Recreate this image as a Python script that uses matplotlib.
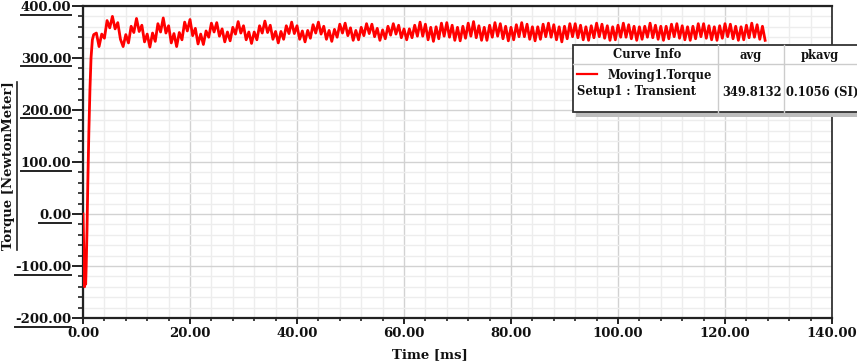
import numpy as np
import matplotlib
matplotlib.use("Agg")
import matplotlib.pyplot as plt
from matplotlib.ticker import MultipleLocator, FormatStrFormatter
from matplotlib.lines import Line2D
from matplotlib.patches import Rectangle

plt.rcParams["axes.unicode_minus"] = False

# ---------------- data ----------------
startup_time = [0.0, 0.15, 0.3, 0.4, 0.5, 0.6, 0.75, 0.9, 1.1, 1.3, 1.5, 1.75, 2.0]
startup_torque = [0, -70, -140, -110, -135, -100, -30, 60, 160, 240, 300, 335, 345]

steady_time_start, steady_time_step, steady_time_end = 2.5, 0.5, 127.5
steady_torque = [
    348, 322, 346, 338, 372, 358, 380, 356, 368, 336,
    322, 345, 329, 361, 349, 376, 351, 363, 331, 346,
    321, 348, 332, 366, 350, 377, 348, 362, 329, 347,
    322, 349, 335, 369, 352, 374, 343, 357, 327, 346,
    326, 352, 340, 367, 350, 368, 342, 356, 331, 350,
    333, 359, 346, 370, 348, 362, 335, 350, 328, 350,
    335, 362, 348, 371, 349, 363, 336, 351, 329, 351,
    336, 362, 347, 369, 347, 362, 336, 352, 331, 353,
    338, 364, 348, 369, 346, 361, 336, 353, 332, 355,
    340, 365, 348, 367, 343, 358, 334, 353, 335, 359,
    343, 366, 347, 365, 341, 357, 334, 354, 337, 361,
    344, 366, 346, 363, 339, 356, 335, 356, 339, 363,
    342, 369, 342, 365, 335, 359, 332, 360, 337, 367,
    342, 368, 340, 363, 334, 359, 333, 361, 338, 367,
    342, 370, 339, 362, 334, 359, 334, 363, 340, 368,
    342, 366, 337, 361, 333, 359, 335, 364, 341, 368,
    341, 365, 336, 360, 333, 360, 336, 365, 341, 367,
    340, 364, 335, 360, 331, 361, 337, 366, 341, 366,
    339, 363, 335, 360, 334, 362, 339, 367, 341, 365,
    338, 362, 334, 360, 335, 363, 340, 367, 340, 364,
    337, 361, 334, 360, 336, 361, 340, 367, 339, 363,
    336, 361, 334, 361, 337, 365, 341, 366, 338, 362,
    335, 360, 334, 361, 337, 366, 341, 366, 338, 362,
    335, 360, 334, 362, 338, 366, 341, 365, 337, 361,
    334, 360, 335, 363, 339, 367, 340, 364, 336, 361,
    334,
]

legend_headers = ["Curve Info", "avg", "pkavg"]
legend_curve = "Moving1.Torque"
legend_setup = "Setup1 : Transient"
legend_avg = "349.8132"
legend_pkavg = "0.1056 (SI)"

x_label = "Time [ms]"
y_label = "Torque [NewtonMeter]"

# ---------------- figure ----------------
W, H = 857, 364
fig = plt.figure(figsize=(W / 100, H / 100), dpi=100)
ax = fig.add_axes([83 / W, 1 - 318 / H, (832 - 83) / W, (318 - 6) / H])

steady_time = np.arange(steady_time_start, steady_time_end + 1e-9, steady_time_step)
t = np.concatenate([startup_time, steady_time[:len(steady_torque)]])
y = np.concatenate([startup_torque, steady_torque])

ax.plot(t, y, color="#ff0000", lw=2.0, zorder=3)

ax.set_xlim(0, 140)
ax.set_ylim(-200, 400)
ax.xaxis.set_major_locator(MultipleLocator(20))
ax.xaxis.set_minor_locator(MultipleLocator(4))
ax.yaxis.set_major_locator(MultipleLocator(100))
ax.yaxis.set_minor_locator(MultipleLocator(20))
ax.xaxis.set_major_formatter(FormatStrFormatter("%.2f"))
ax.yaxis.set_major_formatter(FormatStrFormatter("%.2f"))

ax.set_axisbelow(True)
ax.grid(which="major", color="#d2d2d2", lw=1.0)
ax.grid(which="minor", color="#ededed", lw=1.0)

font = dict(family="DejaVu Serif", weight="bold")
ax.tick_params(which="both", direction="out", color="#222222", labelsize=9.5)
ax.tick_params(axis="y", which="major", length=8, width=1.4, pad=0.5)
ax.tick_params(axis="y", which="minor", length=3.6, width=1.2)
ax.tick_params(axis="x", which="major", length=4.5, width=1.4, pad=2)
ax.tick_params(axis="x", which="minor", length=2.5, width=1.2)
for lab in ax.get_xticklabels() + ax.get_yticklabels():
    lab.set_fontfamily("DejaVu Serif")
    lab.set_fontweight("bold")
    lab.set_color("#111111")

for s in ["left", "bottom", "top"]:
    ax.spines[s].set_linewidth(1.6)
    ax.spines[s].set_color("#222222")
ax.spines["right"].set_linewidth(1.2)
ax.spines["right"].set_color("#222222")

ax.set_xlabel(x_label, fontsize=9.5, color="#111111", **font)
ax.xaxis.set_label_coords(0.463, -0.098)
ax.set_ylabel(y_label, fontsize=9.5, color="#111111", **font)
ax.yaxis.set_label_coords(-0.0905, 0.487)

# ---------------- legend table ----------------
def fx(px):
    return px / W

def fy(py):
    return 1 - py / H

bx0, bx1, by0, by1 = 573, 875, 45, 112
shadow = Rectangle((fx(bx0 + 3), fy(by1 + 5)), fx(bx1 - bx0), fy(by0) - fy(by1),
                   transform=fig.transFigure, facecolor="#bdbdbd", edgecolor="none",
                   zorder=5)
fig.add_artist(shadow)
box = Rectangle((fx(bx0), fy(by1)), fx(bx1 - bx0), fy(by0) - fy(by1),
                transform=fig.transFigure, facecolor="white", edgecolor="#333333",
                lw=1.3, zorder=6)
fig.add_artist(box)
for xx in [718, 784]:
    fig.add_artist(Line2D([fx(xx), fx(xx)], [fy(by0), fy(by1)], transform=fig.transFigure,
                          color="#cccccc", lw=1.0, zorder=7))
fig.add_artist(Line2D([fx(bx0), fx(bx1)], [fy(64), fy(64)], transform=fig.transFigure,
                      color="#cccccc", lw=1.0, zorder=7))
fig.add_artist(Line2D([fx(577), fx(597)], [fy(74), fy(74)], transform=fig.transFigure,
                      color="#ff0000", lw=1.6, zorder=7))

tkw = dict(fontsize=8.3, color="#111111", zorder=8, **font)
fig.text(fx(647), fy(55), legend_headers[0], ha="center", va="center", **tkw)
fig.text(fx(751), fy(55), legend_headers[1], ha="center", va="center", **tkw)
fig.text(fx(820), fy(55), legend_headers[2], ha="center", va="center", **tkw)
fig.text(fx(608), fy(75), legend_curve, ha="left", va="center", **tkw)
fig.text(fx(577), fy(92), legend_setup, ha="left", va="center", **tkw)
fig.text(fx(722), fy(92), legend_avg, ha="left", va="center", **tkw)
fig.text(fx(786), fy(92), legend_pkavg, ha="left", va="center", **tkw)

# ---------------- underlines (y tick labels and y label) ----------------
fig.canvas.draw()
renderer = fig.canvas.get_renderer()
inv = fig.transFigure.inverted()
for val, lab in zip(ax.get_yticks(), ax.get_yticklabels()):
    if not (-200 <= val <= 400) or not lab.get_text():
        continue
    bb = lab.get_window_extent(renderer)
    yline = bb.y0 - 0.5
    p0 = inv.transform((bb.x0, yline))
    p1 = inv.transform((bb.x1, yline))
    fig.add_artist(Line2D([p0[0], p1[0]], [p0[1], p1[1]], transform=fig.transFigure,
                          color="#222222", lw=1.4, clip_on=False))
ylab = ax.yaxis.label
bb = ylab.get_window_extent(renderer)
p0 = inv.transform((bb.x1 + 1.5, bb.y0))
p1 = inv.transform((bb.x1 + 1.5, bb.y1))
fig.add_artist(Line2D([p0[0], p1[0]], [p0[1], p1[1]], transform=fig.transFigure,
                      color="#222222", lw=1.2, clip_on=False))

fig.savefig("out.png", dpi=100)
